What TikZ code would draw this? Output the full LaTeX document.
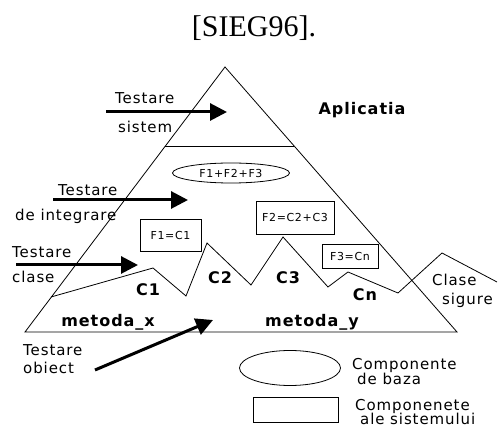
\documentclass[tikz,border=0pt]{standalone}
\usepackage{fontspec}
\setmainfont{DejaVu Sans}[LetterSpace=6]
\newfontfamily\titlefont{Liberation Serif}
\usetikzlibrary{arrows.meta,shapes.geometric,calc}

\providecommand*{\pyrLeft}{}
\providecommand*{\pyrRight}{}
\providecommand*{\pyrBase}{}
\renewcommand*{\pyrLeft}{25}
\renewcommand*{\pyrRight}{457}
\renewcommand*{\pyrBase}{332}

\tikzset{
  lbl/.style={font=\fontsize{15}{16}\selectfont, inner sep=0pt},
  boldlbl/.style={font=\fontsize{16}{17}\selectfont\bfseries, inner sep=0pt},
  smalllbl/.style={font=\fontsize{11}{12}\selectfont, inner sep=0pt},
  edge/.style={line width=0.8pt},
  testarrow/.style={line width=3pt, -{Triangle[length=17pt,width=17pt]}},
  compbox/.style={draw, line width=0.8pt, rectangle, inner sep=0pt, smalllbl},
  compell/.style={draw, line width=0.8pt, ellipse, inner sep=0pt, smalllbl}
}

\begin{document}
\begin{tikzpicture}[x=1pt,y=-1pt]
  \useasboundingbox (0,0) rectangle (499,430);
  \node (title) at (254,28) {\titlefont\fontsize{30}{32}\selectfont [SIEG96].};

  % piramida
  \coordinate (apex) at (225,67);
  \coordinate (bl) at (\pyrLeft,\pyrBase);
  \coordinate (br) at (\pyrRight,\pyrBase);
  \draw [edge] (bl) -- (apex) -- (br) -- cycle;
  \draw [edge] ($(apex)!0.298!(bl)$) -- ($(apex)!0.298!(br)$);

  % linia claselor
  \draw [edge] (51,297) -- (153,268) -- (186,296) -- (207,243) -- (251,285)
    -- (283,237) -- (328,287) -- (348,272) -- (398,293) -- (442,253) -- (497,282);

  \node [compell, minimum width=117pt, minimum height=20pt] (f123) at (231,173) {F1+F2+F3};
  \node [compbox, minimum width=61pt, minimum height=32pt] (f1) at (170.5,235) {F1=C1};
  \node [compbox, minimum width=78pt, minimum height=33pt] (f2) at (295,217.5) {F2=C2+C3};
  \node [compbox, minimum width=56pt, minimum height=24pt] (f3) at (350,256) {F3=Cn};

  \node [boldlbl] (apl) at (362,110) {Aplicatia};
  \node [boldlbl] (c1) at (148,290) {C1};
  \node [boldlbl] (c2) at (220,278) {C2};
  \node [boldlbl] (c3) at (288,278) {C3};
  \node [boldlbl] (cn) at (365,295) {Cn};
  \node [boldlbl] (mx) at (108,322) {metoda\_x};
  \node [boldlbl] (my) at (312,322) {metoda\_y};
  \node [lbl, anchor=west] (clase) at (432,280) {Clase};
  \node [lbl, anchor=west] (sigure) at (442,300) {sigure};

  % sagetile de testare
  \node [lbl, anchor=west] (tsis) at (115,98) {Testare};
  \node [lbl, anchor=west] (sis) at (118,127) {sistem};
  \coordinate (sisA) at (106,112);
  \coordinate (sisB) at (227,112);
  \draw [testarrow] (sisA) -- (sisB);

  \node [lbl, anchor=west] (tint) at (58,190) {Testare};
  \node [lbl, anchor=west] (int) at (15,216) {de integrare};
  \coordinate (intA) at (53,200);
  \coordinate (intB) at (188,200);
  \draw [testarrow] (intA) -- (intB);

  \node [lbl, anchor=west] (tcl) at (12,252) {Testare};
  \node [lbl, anchor=west] (cl) at (12,277) {clase};
  \coordinate (clA) at (16,265);
  \coordinate (clB) at (138,265);
  \draw [testarrow] (clA) -- (clB);

  \node [lbl, anchor=west] (tob) at (23,350) {Testare};
  \node [lbl, anchor=west] (ob) at (23,368) {obiect};
  \coordinate (obA) at (95,370);
  \coordinate (obB) at (213,320);
  \draw [testarrow] (obA) -- (obB);

  % legenda
  \node [compell, minimum width=101pt, minimum height=35pt] (legell) at (290,368) {};
  \node [lbl, anchor=west] (lc1) at (352,365) {Componente};
  \node [lbl, anchor=west] (lc2) at (357,379) {de baza};
  \node [compbox, minimum width=85pt, minimum height=25pt] (legbox) at (295.5,409.5) {};
  \node [lbl, anchor=west] (ls1) at (355,406) {Componenete};
  \node [lbl, anchor=west] (ls2) at (360,419) {ale sistemului};
\end{tikzpicture}
\end{document}
